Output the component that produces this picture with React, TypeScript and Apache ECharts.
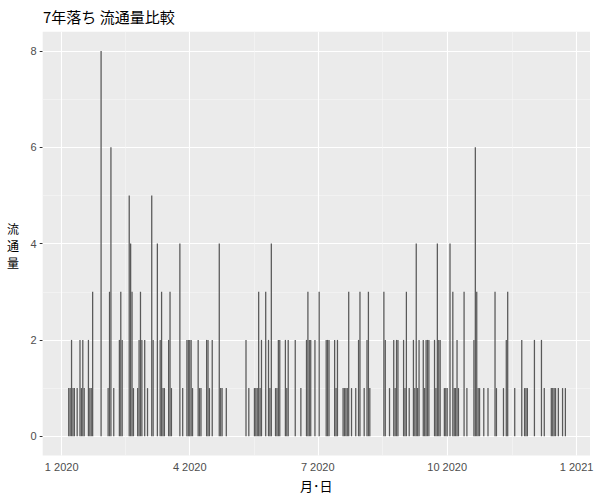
import React, { useEffect, useRef } from "react";
import * as echarts from "echarts";

const TITLE = "7年落ち 流通量比較";
const X_NAME = "月･日";
const Y_NAME = "流\n通\n量";

// day offsets counted from 2020-01-01, and the count on that day
const dayOffsets: number[] = [
  5, 6, 7, 8, 9, 11, 13, 14, 15, 16, 19, 20, 21, 22, 28, 33, 34, 35, 37,
  41, 42, 43, 48, 49, 50, 51, 54, 55, 56, 57, 59, 61, 64, 65, 68,
  70, 71, 72, 73, 76, 77, 78, 84, 86, 89, 90, 91, 92, 93, 97, 98, 99,
  103, 104, 105, 107, 112, 113, 114, 117, 131, 133, 137, 138, 139, 140, 141,
  142, 145, 147, 148, 149, 152, 153, 154, 155, 159, 160, 161, 166, 170,
  174, 175, 176, 177, 180, 183, 188, 189, 190, 194, 195, 196,
  200, 201, 202, 203, 204, 206, 209, 211, 212, 215, 217, 218, 219,
  229, 230, 233, 236, 237, 238, 239, 243, 244, 245, 247,
  250, 251, 252, 253, 254, 257, 258, 259, 260, 261, 265, 266, 267, 268, 269,
  272, 273, 274, 276, 278, 279, 280, 281, 282, 286, 288,
  293, 294, 295, 296, 297, 300, 303, 308, 309, 314, 316, 317,
  322, 327, 329, 330, 331, 336, 341, 343, 348, 349, 350, 351, 353, 356, 358,
];
const counts: number[] = [
  1, 1, 2, 1, 1, 1, 2, 1, 2, 1, 2, 1, 1, 3, 8, 1, 3, 6, 1,
  2, 3, 2, 5, 4, 3, 1, 1, 2, 3, 2, 2, 1, 5, 2, 4,
  2, 3, 1, 1, 2, 3, 1, 4, 1, 2, 2, 2, 2, 1, 2, 1, 1,
  2, 2, 1, 2, 4, 1, 1, 1, 2, 1, 1, 1, 1, 3, 1,
  2, 3, 2, 1, 4, 1, 1, 2, 2, 2, 1, 2, 2, 1,
  2, 3, 2, 2, 2, 3, 2, 2, 2, 2, 1, 2,
  1, 1, 1, 1, 3, 1, 1, 2, 3, 1, 2, 3, 1,
  3, 2, 1, 2, 1, 2, 2, 2, 1, 3, 1,
  2, 1, 4, 1, 2, 2, 1, 2, 2, 2, 2, 1, 4, 2, 2,
  1, 1, 1, 4, 3, 1, 1, 2, 1, 3, 1,
  2, 6, 3, 1, 1, 1, 1, 3, 1, 1, 2, 3,
  1, 2, 1, 1, 1, 2, 2, 1, 1, 1, 1, 1, 1, 1, 1,
];

const FIRST_OFFSET = -13;
const LAST_OFFSET = 375;
const majorTickOffsets = [0, 91, 182, 274, 366];
const minorTickOffsets = [45, 137, 228, 320];
const yMajor = [0, 2, 4, 6, 8];
const yMinor = [1, 3, 5, 7];

function dateStr(offset: number): string {
  const d = new Date(Date.UTC(2020, 0, 1 + offset));
  return d.toISOString().slice(0, 10);
}

export default function App() {
  const ref = useRef<HTMLDivElement>(null);

  useEffect(() => {
    if (!ref.current) return;
    const chart = echarts.init(ref.current, undefined, { renderer: "svg" });

    const categories: string[] = [];
    const values: (number | null)[] = [];
    const lookup = new Map<number, number>();
    dayOffsets.forEach((d, i) => lookup.set(d, counts[i]));
    for (let o = FIRST_OFFSET; o <= LAST_OFFSET; o++) {
      categories.push(dateStr(o));
      values.push(lookup.has(o) ? (lookup.get(o) as number) : null);
    }
    const majorSet = new Set(majorTickOffsets.map(dateStr));

    const gridLines: any[] = [];
    yMajor.forEach((v) =>
      gridLines.push({ yAxis: v, lineStyle: { color: "#FFFFFF", width: 1.1, type: "solid" } })
    );
    yMinor.forEach((v) =>
      gridLines.push({ yAxis: v, lineStyle: { color: "#F7F7F7", width: 0.6, type: "solid" } })
    );
    majorTickOffsets.forEach((o) =>
      gridLines.push({ xAxis: dateStr(o), lineStyle: { color: "#FFFFFF", width: 1.1, type: "solid" } })
    );
    minorTickOffsets.forEach((o) =>
      gridLines.push({ xAxis: dateStr(o), lineStyle: { color: "#F7F7F7", width: 0.6, type: "solid" } })
    );

    chart.setOption({
      animation: false,
      backgroundColor: "#FFFFFF",
      title: {
        text: TITLE,
        left: 38,
        top: 4,
        textStyle: {
          fontFamily: "Noto Sans CJK JP",
          fontSize: 15,
          fontWeight: "normal",
          color: "#000000",
        },
      },
      grid: {
        left: 42.7,
        right: 10,
        top: 31.7,
        bottom: 44.5,
        show: true,
        backgroundColor: "#EBEBEB",
        borderWidth: 0,
      },
      xAxis: {
        type: "category",
        data: categories,
        boundaryGap: true,
        name: X_NAME,
        nameLocation: "middle",
        nameGap: 23,
        nameTextStyle: { fontFamily: "Noto Sans CJK JP", fontSize: 13, color: "#000000" },
        axisLine: { show: false },
        axisTick: {
          show: true,
          alignWithLabel: true,
          length: 3,
          interval: (_i: number, v: string) => majorSet.has(v),
          lineStyle: { color: "#333333", width: 1 },
        },
        axisLabel: {
          interval: (_i: number, v: string) => majorSet.has(v),
          margin: 6,
          color: "#4D4D4D",
          fontSize: 11,
          fontFamily: "Liberation Sans",
          formatter: (v: string) => `${parseInt(v.slice(5, 7), 10)} ${v.slice(0, 4)}`,
        },
        splitLine: { show: false },
      },
      yAxis: {
        type: "value",
        min: -0.4,
        max: 8.4,
        axisLine: { show: false },
        axisTick: {
          show: true,
          length: 3,
          customValues: yMajor,
          lineStyle: { color: "#333333", width: 1 },
        },
        axisLabel: {
          customValues: yMajor,
          margin: 6,
          color: "#4D4D4D",
          fontSize: 11,
          fontFamily: "Liberation Sans",
        },
        splitLine: { show: false },
      },
      graphic: [
        {
          type: "text",
          left: 7,
          top: 220,
          style: {
            text: Y_NAME,
            fontFamily: "Noto Sans CJK JP",
            fontSize: 12,
            lineHeight: 17,
            fill: "#000000",
          },
        },
      ],
      series: [
        {
          type: "bar",
          data: values,
          barWidth: "90%",
          itemStyle: { color: "#595959" },
          z: 2,
          markLine: {
            z: 1,
            silent: true,
            symbol: "none",
            label: { show: false },
            data: gridLines,
          },
        },
      ],
    });

    return () => chart.dispose();
  }, []);

  return (
    <div
      ref={ref}
      style={{ position: "absolute", left: 0, top: 0, width: 600, height: 500 }}
    />
  );
}
